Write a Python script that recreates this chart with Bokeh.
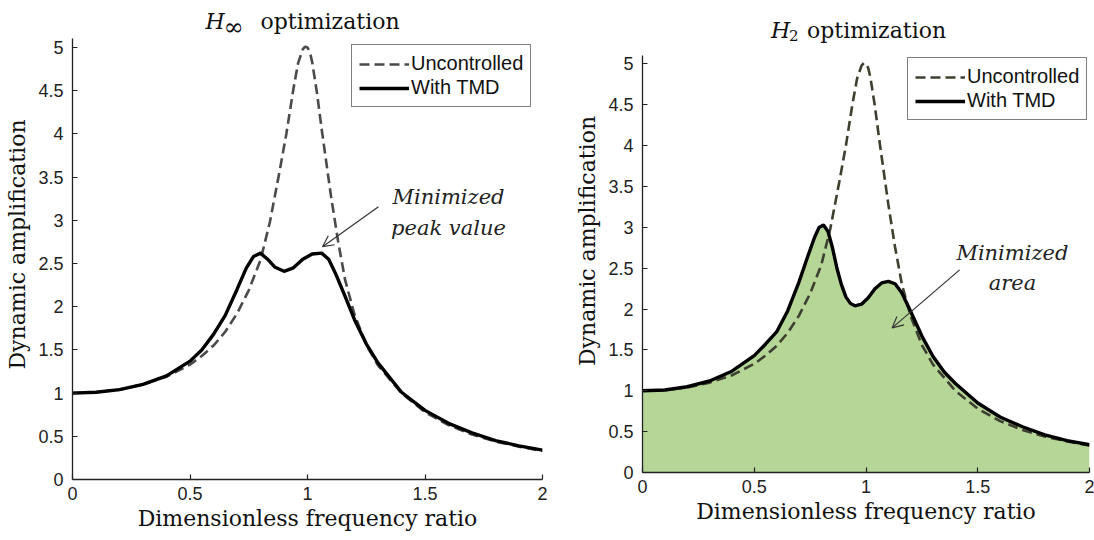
from bokeh.plotting import figure
from bokeh.layouts import row
from bokeh.models import (Legend, LegendItem, Label, Arrow, OpenHead,
                          FixedTicker, NumeralTickFormatter, Range1d)
from bokeh.embed import file_html
from bokeh.resources import INLINE

# ---- data ----
freq_unc = [0, 0.1, 0.2, 0.3, 0.4, 0.5, 0.55, 0.6, 0.65, 0.7, 0.75, 0.8, 0.84,
            0.88, 0.91, 0.94, 0.96, 0.98, 0.99, 1.0, 1.01, 1.02, 1.04, 1.06,
            1.08, 1.1, 1.13, 1.16, 1.2, 1.25, 1.3, 1.4, 1.5, 1.6, 1.7, 1.8,
            1.9, 2.0]
amp_unc = [1.00, 1.01, 1.04, 1.10, 1.19, 1.33, 1.43, 1.55, 1.71, 1.92, 2.19,
           2.54, 2.98, 3.55, 4.00, 4.52, 4.82, 4.98, 5.01, 5.00, 4.95, 4.83,
           4.48, 4.06, 3.67, 3.28, 2.76, 2.31, 1.91, 1.56, 1.32, 1.00, 0.78,
           0.63, 0.52, 0.44, 0.38, 0.33]

freq_hinf = [0, 0.1, 0.2, 0.3, 0.4, 0.5, 0.55, 0.6, 0.65, 0.7, 0.74, 0.77,
             0.8, 0.83, 0.86, 0.9, 0.94, 0.98, 1.02, 1.06, 1.09, 1.12, 1.16,
             1.2, 1.25, 1.3, 1.4, 1.5, 1.6, 1.7, 1.8, 1.9, 2.0]
amp_hinf = [1.00, 1.01, 1.04, 1.10, 1.20, 1.37, 1.50, 1.68, 1.90, 2.20, 2.45,
            2.58, 2.62, 2.55, 2.46, 2.41, 2.45, 2.55, 2.61, 2.62, 2.55, 2.38,
            2.12, 1.85, 1.57, 1.35, 1.01, 0.80, 0.65, 0.54, 0.45, 0.39, 0.34]

freq_h2 = [0, 0.1, 0.2, 0.3, 0.4, 0.5, 0.55, 0.6, 0.65, 0.7, 0.74, 0.77, 0.79,
           0.81, 0.83, 0.85, 0.87, 0.89, 0.91, 0.93, 0.95, 0.98, 1.01, 1.04,
           1.07, 1.1, 1.13, 1.16, 1.2, 1.25, 1.3, 1.35, 1.4, 1.5, 1.6, 1.7,
           1.8, 1.9, 2.0]
amp_h2 = [1.00, 1.01, 1.05, 1.12, 1.24, 1.43, 1.57, 1.72, 1.98, 2.33, 2.65,
          2.88, 3.00, 3.03, 2.95, 2.75, 2.50, 2.30, 2.15, 2.07, 2.04, 2.06,
          2.14, 2.25, 2.32, 2.34, 2.31, 2.20, 1.97, 1.67, 1.42, 1.23, 1.09,
          0.85, 0.68, 0.56, 0.46, 0.39, 0.34]

x_ticks = [0, 0.5, 1, 1.5, 2]
y_ticks = [0, 0.5, 1, 1.5, 2, 2.5, 3, 3.5, 4, 4.5, 5]

series_labels = ["Uncontrolled", "With TMD"]
x_title = "Dimensionless frequency ratio"
y_title = "Dynamic amplification"

SERIF = "DejaVu Serif"
SANS = "Liberation Sans"
Y_AXIS_TOP = 5.1


def make_fig(fw, fh, ytop, bl, br, bt, bb):
    p = figure(frame_width=fw, frame_height=fh, min_border_left=bl,
               min_border_right=br, min_border_top=bt, min_border_bottom=bb,
               x_range=Range1d(0, 2), y_range=Range1d(0, ytop),
               output_backend="svg", toolbar_location=None,
               background_fill_color="white", border_fill_color="white")
    p.outline_line_color = None
    p.grid.visible = False
    p.xaxis.ticker = FixedTicker(ticks=x_ticks)
    p.yaxis.ticker = FixedTicker(ticks=y_ticks)
    p.yaxis.bounds = (0, Y_AXIS_TOP)
    for ax in (p.xaxis, p.yaxis):
        ax.formatter = NumeralTickFormatter(format="0.[0]")
        ax.major_tick_in = 5
        ax.major_tick_out = 0
        ax.minor_tick_line_color = None
        ax.axis_line_color = "#222222"
        ax.axis_line_width = 1.3
        ax.major_tick_line_color = "#222222"
        ax.major_tick_line_width = 1.2
        ax.major_label_text_font = SANS
        ax.major_label_text_font_size = "18px"
        ax.major_label_text_color = "#222222"
        ax.axis_label_text_font = SERIF
        ax.axis_label_text_font_size = "22px"
        ax.axis_label_text_font_style = "normal"
        ax.axis_label_text_color = "#111111"
    p.xaxis.axis_label = x_title
    p.yaxis.axis_label = y_title
    p.xaxis.major_label_standoff = 7
    p.yaxis.major_label_standoff = 9
    p.xaxis.axis_label_standoff = 3
    p.yaxis.axis_label_standoff = 5
    return p


def add_legend(p, r1, r2, loc):
    leg = Legend(items=[LegendItem(label=series_labels[0], renderers=[r1]),
                        LegendItem(label=series_labels[1], renderers=[r2])],
                 location=loc, border_line_color="black", border_line_width=1,
                 background_fill_color="white", background_fill_alpha=1.0,
                 padding=7, spacing=1, label_standoff=2, glyph_width=50,
                 glyph_height=20, label_height=20, margin=0,
                 label_text_font=SANS, label_text_font_size="20px",
                 label_text_color="#111111")
    p.add_layout(leg, "center")


def add_title(p, parts):
    for txt, xo, yo, size, style in parts:
        p.add_layout(Label(x=1.0, y=Y_AXIS_TOP, x_offset=xo, y_offset=yo,
                           text=txt, text_font=SERIF, text_font_style=style,
                           text_font_size=size, text_color="#111111",
                           text_baseline="alphabetic", text_align="left"))


def add_note(p, lines, xs, ys, arrow):
    for txt, y in zip(lines, ys):
        p.add_layout(Label(x=xs, y=y, text=txt, text_font=SERIF,
                           text_font_style="italic", text_font_size="21px",
                           text_color="#222222", text_align="center",
                           text_baseline="alphabetic"))
    x0, y0, x1, y1 = arrow
    p.add_layout(Arrow(end=OpenHead(size=11, line_width=1.2, line_color="#333333"),
                       x_start=x0, y_start=y0, x_end=x1, y_end=y1,
                       line_width=1.2, line_color="#333333"))


# ---- left: H-infinity ----
p1 = make_fig(470, 470, 5.44, 72, 18, 9, 60)
r1a = p1.line(freq_unc, amp_unc, line_color="#4a4a4a", line_width=2.6,
              line_dash="10 5")
r1b = p1.line(freq_hinf, amp_hinf, line_color="black", line_width=3.4)
add_legend(p1, r1a, r1b, (279, 372))
add_title(p1, [("H", -102, 17.4, "22px", "italic"),
               ("\u221e", -84, 12.0, "24px", "normal"),
               ("optimization", -47, 17.4, "22px", "normal")])
add_note(p1, ["Minimized", "peak value"], 1.6, [3.27, 2.91],
         (1.302, 3.157, 1.064, 2.695))

# ---- right: H2 ----
p2 = make_fig(447, 463, 5.667, 82, 5, 9, 60)
p2.varea(x=freq_h2, y1=0, y2=amp_h2, fill_color="#b5d697", fill_alpha=1.0)
r2a = p2.line(freq_unc, amp_unc, line_color="#3d4030", line_width=2.6,
              line_dash="10 5")
r2b = p2.line(freq_h2, amp_h2, line_color="black", line_width=3.4)
add_legend(p2, r2a, r2b, (265, 352))
add_title(p2, [("H", -95, 25, "22px", "italic"),
               ("2", -77, 20, "15px", "normal"),
               ("optimization", -59, 25, "22px", "normal")])
add_note(p2, ["Minimized", "area"], 1.655, [2.69, 2.32],
         (1.419, 2.48, 1.117, 1.77))

layout = row(p1, p2)
open("out.html", "w").write(file_html(layout, INLINE))
